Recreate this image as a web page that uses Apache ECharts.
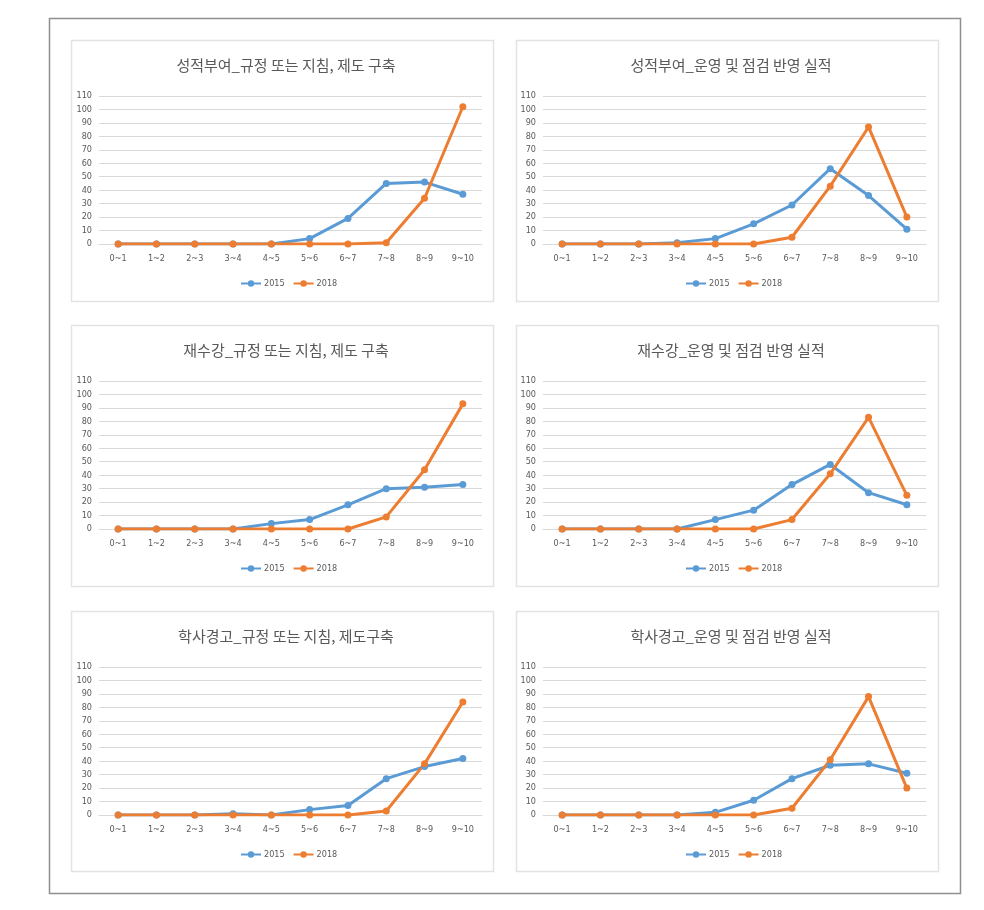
<!DOCTYPE html>
<html>
<head>
<meta charset="utf-8">
<script src="https://cdn.jsdelivr.net/npm/echarts@6/dist/echarts.min.js"></script>
<style>
html,body{margin:0;padding:0;background:#fff;}
#c{width:984px;height:910px;}
</style>
</head>
<body>
<div id="c"></div>
<script>
const categories = ['0~1','1~2','2~3','3~4','4~5','5~6','6~7','7~8','8~9','9~10'];
const seriesNames = ['2015','2018'];
const yTicks = [0,10,20,30,40,50,60,70,80,90,100,110];

const titles = [
  '성적부여_규정 또는 지침, 제도 구축',
  '성적부여_운영 및 점검 반영 실적',
  '재수강_규정 또는 지침, 제도 구축',
  '재수강_운영 및 점검 반영 실적',
  '학사경고_규정 또는 지침, 제도구축',
  '학사경고_운영 및 점검 반영 실적'
];

const grade_rule_2015 = [0,0,0,0,0,4,19,45,46,37];
const grade_rule_2018 = [0,0,0,0,0,0,0,1,34,102];
const grade_oper_2015 = [0,0,0,1,4,15,29,56,36,11];
const grade_oper_2018 = [0,0,0,0,0,0,5,43,87,20];
const retake_rule_2015 = [0,0,0,0,4,7,18,30,31,33];
const retake_rule_2018 = [0,0,0,0,0,0,0,9,44,93];
const retake_oper_2015 = [0,0,0,0,7,14,33,48,27,18];
const retake_oper_2018 = [0,0,0,0,0,0,7,41,83,25];
const warn_rule_2015 = [0,0,0,1,0,4,7,27,36,42];
const warn_rule_2018 = [0,0,0,0,0,0,0,3,38,84];
const warn_oper_2015 = [0,0,0,0,2,11,27,37,38,31];
const warn_oper_2018 = [0,0,0,0,0,0,5,41,88,20];

const panelData = [
  [grade_rule_2015, grade_rule_2018],
  [grade_oper_2015, grade_oper_2018],
  [retake_rule_2015, retake_rule_2018],
  [retake_oper_2015, retake_oper_2018],
  [warn_rule_2015, warn_rule_2018],
  [warn_oper_2015, warn_oper_2018]
];

const colors = ['#5B9BD5', '#ED7D31'];
const colX = [71, 516];
const rowY = [40, 325, 611];
const panelW = 422, panelH = 261;
const numFont = '"Liberation Sans Narrow","DejaVu Sans Condensed","Liberation Sans",sans-serif';
const krFont = '"Noto Sans CJK KR","Noto Sans",sans-serif';

const grids = [], xAxes = [], yAxes = [], series = [], titleArr = [], legends = [], graphics = [];

graphics.push({type:'rect', shape:{x:49.5,y:18.5,width:911,height:875}, style:{fill:'none', stroke:'#8f8f8f', lineWidth:1.5}, z:-10});

for (let i = 0; i < 6; i++) {
  const col = i % 2, row = Math.floor(i / 2);
  const px = colX[col], py = rowY[row];
  const cx = px + panelW / 2;
  graphics.push({type:'rect', shape:{x:px+0.5,y:py+0.5,width:panelW,height:(row===2?260:panelH)}, style:{fill:'#fff', stroke:'#e3e3e3', lineWidth:1.5}, z:-5});
  grids.push({left: px + 28 - (col===1?1:0), top: py + 56, width: 383, height: 148, containLabel:false});
  xAxes.push({
    type:'category', gridIndex:i, data:categories, boundaryGap:true,
    axisLine:{show:true, lineStyle:{color:'#d9d9d9', width:1}},
    axisTick:{show:false},
    axisLabel:{color:'#595959', fontSize:9, fontFamily:numFont, margin:10, interval:0}
  });
  yAxes.push({
    type:'value', gridIndex:i, min:yTicks[0], max:yTicks[yTicks.length-1], interval:yTicks[1]-yTicks[0],
    axisLine:{show:false}, axisTick:{show:false},
    splitLine:{show:true, lineStyle:{color:'#d9d9d9', width:1}},
    axisLabel:{color:'#595959', fontSize:9, fontFamily:numFont, margin:7}
  });
  titleArr.push({
    text: titles[i], left: cx - 1, top: py + 13, textAlign:'center',
    textStyle:{color:'#595959', fontSize:15, fontWeight:'normal', fontFamily:krFont}
  });
  legends.push({
    data: seriesNames, left: cx - 47, top: py + 56 + 148 + 30,
    itemWidth: 20, itemHeight: 8, itemGap: 8,
    textStyle:{color:'#595959', fontSize:9, fontFamily:numFont, padding:[0,0,0,-2]}
  });
  for (let s = 0; s < 2; s++) {
    series.push({
      name: seriesNames[s], type:'line', xAxisIndex:i, yAxisIndex:i,
      data: panelData[i][s],
      symbol:'circle', symbolSize:7,
      lineStyle:{color:colors[s], width:3},
      itemStyle:{color:colors[s]},
      animation:false
    });
  }
}

const chart = echarts.init(document.getElementById('c'), null, {renderer:'canvas'});
chart.setOption({
  backgroundColor:'#fff',
  animation:false,
  color: colors,
  title: titleArr,
  legend: legends,
  grid: grids,
  xAxis: xAxes,
  yAxis: yAxes,
  series: series,
  graphic: graphics
});
</script>
</body>
</html>
